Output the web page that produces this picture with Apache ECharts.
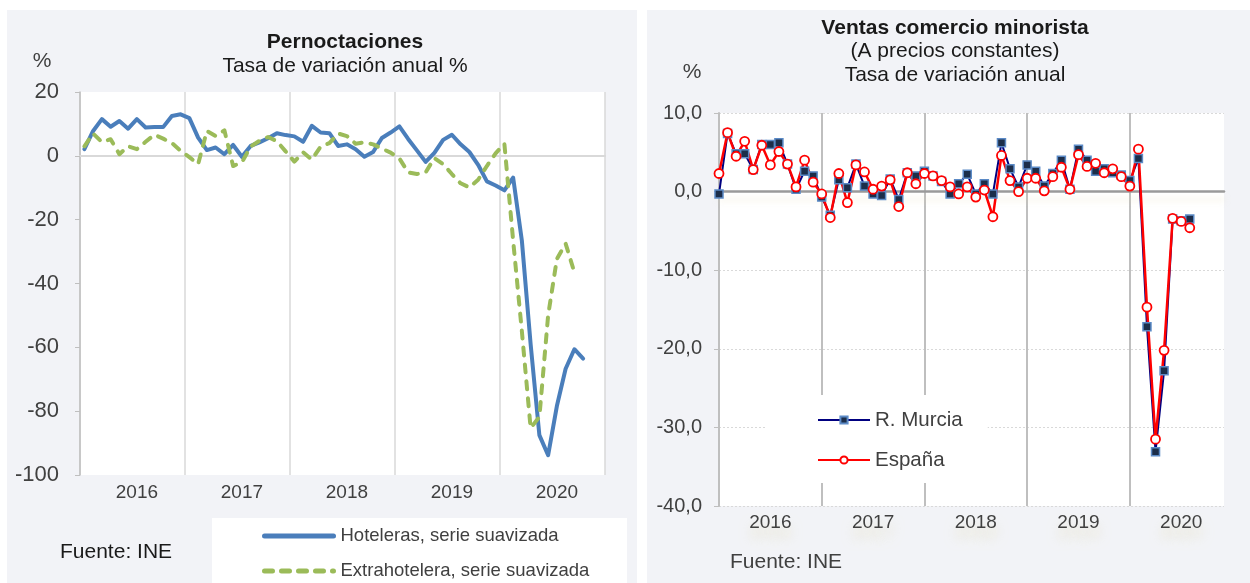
<!DOCTYPE html>
<html><head><meta charset="utf-8">
<script src="https://cdn.jsdelivr.net/npm/echarts@6/dist/echarts.min.js"></script>
<style>html,body{margin:0;padding:0;background:#fff}#c{width:1250px;height:583px}</style>
</head><body><div id="c"></div>
<script>
// ---- data ----
const years = ['2016', '2017', '2018', '2019', '2020'];
const monthNums = ['01','02','03','04','05','06','07','08','09','10','11','12'];
const months = [];
years.forEach(y => monthNums.forEach(m => months.push(y + '-' + m)));

// Pernoctaciones, tasa de variación anual (%)
const hoteleras = [2.1, 7.8, 11.5, 9.1, 10.9, 8.5, 11.5, 8.9, 9, 9, 12.5, 13,
  11.8, 5.7, 1.8, 2.6, 0.5, 3.4, -0.3, 3.1, 4.2, 5.5, 7.1, 6.5,
  6.1, 4.4, 9.4, 7.3, 7.1, 3.1, 3.6, 2.1, -0.3, 1.2, 5.6, 7.3,
  9.2, 5.3, 1.7, -1.9, 0.9, 5, 6.6, 3.6, 1.2, -2.8, -8, -9.3,
  -10.8, -6.8, -26.6, -59, -87.5, -93.8, -78.4, -66.7, -60.6, -63.5];
const extrahotelera = [3, 7, 4.3, 5.2, 0.5, 3, 2.1, 4.4, 6.6, 5.4, 4, 1.6,
  -0.4, -2.6, 7.8, 6.2, 8, -3.2, -2, 2.9, 4.7, 5.9, 4.6, 1.4,
  -1.8, 1.1, -1.2, 2.9, 4, 7, 6.2, 3.8, 4.2, 3.6, 2.3, 1,
  -0.8, -5.2, -5.7, -5.2, -0.7, -2.6, -5.7, -8.6, -9.9, -7.5, -3.2, 0.8,
  3.8, -26.5, -55, -85.3, -81.8, -50, -32.3, -27.5, -36.5];

// Ventas comercio minorista, tasa de variación anual
const murcia = [-0.3, 7.4, 4.8, 4.8, 2.8, 6.0, 6.0, 6.2, 3.5, 0.3, 2.6, 2.0,
  -0.7, -3.0, 1.5, 0.5, 3.5, 0.7, -0.3, -0.5, 1.6, -1.0, 2.4, 2.0,
  2.6, 2.0, 1.3, -0.3, 1.0, 2.2, -0.3, 1.0, -0.3, 6.2, 2.9, 0.6,
  3.4, 2.6, 0.7, 2.3, 4.0, 0.3, 5.4, 4.0, 2.6, 2.9, 2.4, 2.1,
  1.4, 4.2, -17.2, -33.1, -22.8, -3.5, -3.7, -3.5];
const espana = [2.3, 7.5, 4.5, 6.4, 2.8, 5.9, 3.4, 5.1, 3.5, 0.6, 4.0, 1.2,
  -0.3, -3.3, 2.3, -1.4, 3.4, 2.5, 0.3, 0.7, 1.5, -1.9, 2.4, 1.0,
  2.3, 2.0, 1.4, 0.6, -0.3, 0.6, -0.7, 0.2, -3.2, 4.6, 1.4, 0.0,
  1.7, 1.7, 0.1, 1.9, 3.1, 0.3, 4.7, 3.2, 3.6, 2.4, 2.9, 1.9,
  0.7, 5.4, -14.7, -31.5, -20.2, -3.4, -3.8, -4.6];

const leftTicks = { min: -100, max: 20, interval: 20 };
const rightTicks = { min: -40, max: 10, interval: 10 };

// ---- chart ----
const FONT = '"Liberation Sans", Arial, sans-serif';
const LBL = '#404040';
const chart = echarts.init(document.getElementById('c'), null, { renderer: 'canvas' });

const yearLabelInterval = i => i % 12 === 6;
const yearSplitInterval = i => i % 12 === 0;

chart.setOption({
  animation: false,
  textStyle: { fontFamily: FONT },
  graphic: [
    { type: 'rect', z: -10, shape: { x: 7, y: 10, width: 630, height: 573 }, style: { fill: '#f2f3f7' } },
    { type: 'rect', z: -10, shape: { x: 647, y: 10, width: 603, height: 573 }, style: { fill: '#f2f3f7' } },
    { type: 'rect', z: -9, shape: { x: 212, y: 518, width: 415, height: 65 }, style: { fill: '#ffffff' } },
    { type: 'text', x: 345, y: 42, style: { text: 'Pernoctaciones', font: 'bold 21px ' + FONT, fill: '#1a1a1a', align: 'center', verticalAlign: 'middle' } },
    { type: 'text', x: 345, y: 66, style: { text: 'Tasa de variación anual %', font: '21px ' + FONT, fill: '#1a1a1a', align: 'center', verticalAlign: 'middle' } },
    { type: 'text', x: 42, y: 61, style: { text: '%', font: '21px ' + FONT, fill: LBL, align: 'center', verticalAlign: 'middle' } },
    { type: 'text', x: 60, y: 552, style: { text: 'Fuente: INE', font: '21px ' + FONT, fill: '#1a1a1a', align: 'left', verticalAlign: 'middle' } },
    { type: 'text', x: 955, y: 28, style: { text: 'Ventas comercio minorista', font: 'bold 21px ' + FONT, fill: '#1a1a1a', align: 'center', verticalAlign: 'middle' } },
    { type: 'text', x: 955, y: 51, style: { text: '(A precios constantes)', font: '21px ' + FONT, fill: '#1a1a1a', align: 'center', verticalAlign: 'middle' } },
    { type: 'text', x: 955, y: 75, style: { text: 'Tasa de variación anual', font: '21px ' + FONT, fill: '#1a1a1a', align: 'center', verticalAlign: 'middle' } },
    { type: 'text', x: 692, y: 72, style: { text: '%', font: '21px ' + FONT, fill: LBL, align: 'center', verticalAlign: 'middle' } },
    { type: 'text', x: 730, y: 562, style: { text: 'Fuente: INE', font: '21px ' + FONT, fill: LBL, align: 'left', verticalAlign: 'middle' } }
  ],
  grid: [
    { left: 80, top: 92, width: 525, height: 383, show: true, backgroundColor: '#fff', borderWidth: 0 },
    { left: 719, top: 113, width: 505, height: 393, show: true, backgroundColor: '#fff', borderWidth: 0 }
  ],
  legend: [
    {
      data: ['Hoteleras, serie suavizada', 'Extrahotelera, serie suavizada'],
      orient: 'vertical', left: 262, top: 526, padding: 0,
      itemWidth: 69, itemHeight: 14, itemGap: 15,
      itemStyle: { color: 'rgba(0,0,0,0)', borderColor: 'rgba(0,0,0,0)', borderWidth: 0 },
      lineStyle: { width: 5 },
      textStyle: { fontSize: 18.5, color: LBL, lineHeight: 20, fontFamily: FONT, padding: [0, 0, 0, 2] },
      selectedMode: false
    },
    {
      data: ['R. Murcia', 'España'],
      orient: 'vertical', left: 765, top: 395, padding: [14, 25, 12, 52],
      itemWidth: 52, itemHeight: 9, itemGap: 18,
      backgroundColor: '#fff',
      textStyle: { fontSize: 20.5, color: LBL, lineHeight: 22, fontFamily: FONT },
      selectedMode: false
    }
  ],
  xAxis: [
    {
      gridIndex: 0, type: 'category', data: months, boundaryGap: true,
      axisLine: { show: false, onZero: false }, axisTick: { show: false },
      axisLabel: { interval: yearLabelInterval, formatter: v => v.slice(0, 4), fontSize: 19, color: LBL, margin: 8 },
      splitLine: { show: true, interval: yearSplitInterval, lineStyle: { color: '#d9d9d9', width: 1.5 } }
    },
    {
      gridIndex: 0, type: 'category', data: months, boundaryGap: true,
      axisLine: { show: true, onZero: true, lineStyle: { color: '#d9d9d9', width: 2 } },
      axisTick: { show: false }, axisLabel: { show: false }, splitLine: { show: false }
    },
    {
      gridIndex: 1, type: 'category', data: months, boundaryGap: false,
      axisLine: { show: false, onZero: false }, axisTick: { show: false },
      axisLabel: { interval: yearLabelInterval, formatter: v => v.slice(0, 4), fontSize: 19, color: LBL, margin: 7,
        textShadowColor: 'rgba(225,218,170,0.6)', textShadowBlur: 12, textShadowOffsetY: 10 },
      splitLine: { show: true, interval: yearSplitInterval, lineStyle: { color: '#bfbfbf', width: 2 } }
    },
    {
      gridIndex: 1, type: 'category', data: months, boundaryGap: false,
      axisLine: { show: true, onZero: true, lineStyle: { color: '#9a9a9a', width: 2.5,
        shadowColor: 'rgba(225,218,175,0.35)', shadowBlur: 6, shadowOffsetY: 8 } },
      axisTick: { show: false }, axisLabel: { show: false }, splitLine: { show: false }
    }
  ],
  yAxis: [
    {
      gridIndex: 0, type: 'value', min: leftTicks.min, max: leftTicks.max, interval: leftTicks.interval,
      axisLine: { show: true, lineStyle: { color: '#bfbfbf', width: 1.5 } },
      axisTick: { show: true, length: 5, lineStyle: { color: '#bfbfbf' } },
      axisLabel: { fontSize: 22, color: LBL, margin: 21 },
      splitLine: { show: false }
    },
    {
      gridIndex: 1, type: 'value', min: rightTicks.min, max: rightTicks.max, interval: rightTicks.interval,
      axisLine: { show: true, lineStyle: { color: '#bfbfbf', width: 2 } },
      axisTick: { show: true, length: 5, lineStyle: { color: '#bfbfbf' } },
      axisLabel: { fontSize: 20, color: LBL, margin: 17, formatter: v => v.toFixed(1).replace('.', ',') },
      splitLine: { show: true, lineStyle: { color: '#d9d9d9', type: [2, 2], width: 1 } }
    }
  ],
  series: [
    {
      name: 'Hoteleras, serie suavizada', type: 'line', xAxisIndex: 0, yAxisIndex: 0,
      data: hoteleras, showSymbol: false, symbol: 'none',
      lineStyle: { color: '#4a7ebb', width: 4, cap: 'round', join: 'round' },
      itemStyle: { color: '#4a7ebb' }
    },
    {
      name: 'Extrahotelera, serie suavizada', type: 'line', xAxisIndex: 0, yAxisIndex: 0,
      data: extrahotelera, showSymbol: false, symbol: 'none',
      lineStyle: { color: '#9bbb59', width: 4, type: [8, 9], cap: 'round', join: 'round' },
      itemStyle: { color: '#9bbb59' }
    },
    {
      name: 'R. Murcia', type: 'line', xAxisIndex: 2, yAxisIndex: 1,
      data: murcia, symbol: 'rect', symbolSize: 8, showAllSymbol: true,
      lineStyle: { color: '#000080', width: 2 },
      itemStyle: { color: '#1c2e4a', borderColor: '#5b8ac6', borderWidth: 1.5 }
    },
    {
      name: 'España', type: 'line', xAxisIndex: 2, yAxisIndex: 1,
      data: espana, symbol: 'circle', symbolSize: 9, showAllSymbol: true,
      lineStyle: { color: '#ff0000', width: 2.5 },
      itemStyle: { color: '#ffffff', borderColor: '#ff0000', borderWidth: 1.8 }
    }
  ]
});
</script></body></html>
